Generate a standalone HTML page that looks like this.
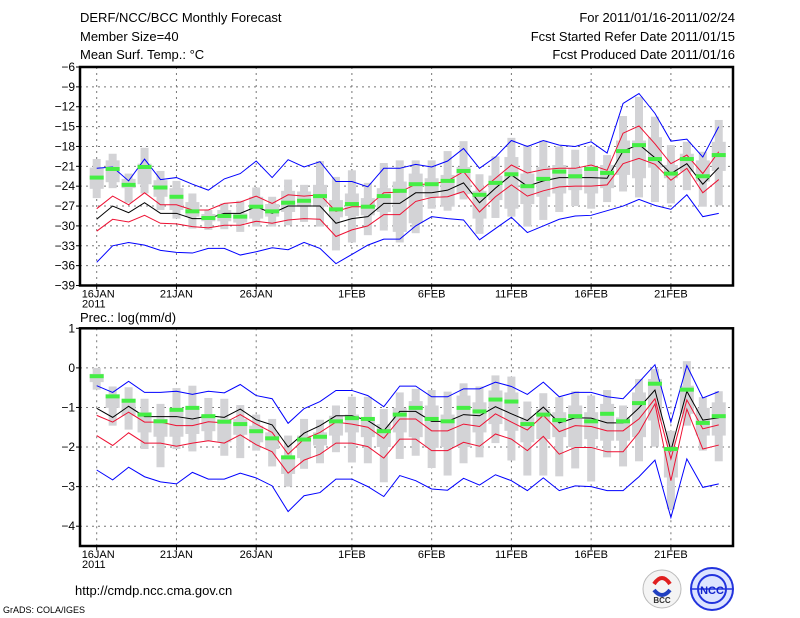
<!DOCTYPE html>
<html><head><meta charset="utf-8"><style>
body{margin:0;background:#fff;width:800px;height:618px;overflow:hidden;font-family:"Liberation Sans",sans-serif}
svg{position:absolute;left:0;top:0}
</style></head><body>
<svg id="c" width="800" height="618" xmlns="http://www.w3.org/2000/svg"></svg>
<script>
const dateLabels=["16JAN","21JAN","26JAN","1FEB","6FEB","11FEB","16FEB","21FEB"];
const dateDays=[0,5,10,16,21,26,31,36];
// Temperature panel
const tBlueHi=[-21.3,-21.1,-23.2,-19.9,-23,-22.7,-23.7,-24.6,-22.9,-22.1,-20.2,-22.7,-20,-21.1,-20.3,-23.3,-23.3,-24.1,-21.3,-21.3,-20.7,-21.1,-20.2,-18.3,-21.3,-19.6,-17.1,-18,-17.1,-17.8,-18,-17.3,-19,-11.5,-10,-13,-17.2,-16.9,-19.6,-15];
const tRedHi=[-27.4,-25.5,-26.8,-25,-26.8,-26.8,-27.6,-27.6,-26.6,-26.4,-25.5,-26.6,-25.3,-25.5,-25.3,-27.8,-27.1,-27.1,-25,-24.9,-23.7,-23.7,-23.2,-21.8,-24.8,-22.8,-20.8,-22,-21.5,-21.3,-21.3,-20.8,-21.6,-16,-14.9,-17.6,-20.6,-19.3,-22.1,-18.8];
const tMean=[-29,-27,-28,-26.5,-28.1,-28.1,-28.9,-28.9,-28.1,-28.1,-27.1,-28.1,-27,-27,-27,-29.6,-28.9,-28.6,-26.6,-26.6,-25,-25,-24.6,-23.5,-26.5,-24.3,-22.3,-24,-23.2,-22.7,-22.7,-22.7,-22.8,-18.7,-17.7,-19.7,-22.1,-20.6,-23.7,-21.2];
const tRedLo=[-30.8,-29,-29.4,-28.4,-29.6,-29.7,-30.1,-30.3,-29.9,-29.9,-29.3,-29.6,-29.1,-28.9,-29,-31.6,-30.6,-30,-28.3,-28.3,-26.3,-25.7,-25.6,-24.8,-27.9,-25.6,-23.8,-25.5,-24.7,-24.1,-24,-24,-23.8,-20.6,-19.8,-20.7,-23.1,-21.3,-25,-23];
const tBlueLo=[-35.5,-33,-32.5,-32.9,-33.7,-34,-34.1,-33.4,-33.4,-34.4,-33.9,-33.3,-33.6,-32.5,-33.4,-35.7,-34.3,-32.9,-32,-32,-30,-28.6,-28.9,-29.1,-32.1,-30.4,-28.7,-31,-30,-29,-28.5,-28.4,-27.7,-27,-26,-26.9,-27.5,-25.3,-28.6,-28.1];
const tObs=[-22.7,-21.4,-23.8,-21.1,-24.2,-25.6,-27.8,-28.8,-28.5,-28.6,-27.1,-27.8,-26.5,-26.2,-25.5,-27.5,-26.7,-27.1,-25.5,-24.7,-23.7,-23.7,-23.2,-21.7,-25.3,-23.5,-22.2,-24,-22.9,-21.8,-22.5,-21.4,-22,-18.7,-17.8,-19.9,-22.1,-19.9,-22.5,-19.3];
const tMax=[-19.9,-19.1,-22.1,-18.2,-21.7,-23.2,-25.1,-27.6,-26.6,-26.2,-24.2,-25.6,-23,-23.8,-20.2,-22.6,-21.6,-23.5,-20.5,-20.1,-20.1,-20.1,-18.7,-17.2,-22.2,-19.5,-16.7,-17.8,-17.1,-18,-18.5,-18,-19.3,-13.4,-10.5,-13.5,-17.8,-17.3,-18.8,-14];
const tMin=[-25.8,-24.3,-26.5,-25.1,-27.6,-28.9,-30.4,-30.6,-30.5,-30.9,-30.1,-30.1,-29.9,-29.4,-30.1,-33.7,-32.5,-31.4,-30.7,-32.5,-31.1,-27.4,-27.7,-26,-31.2,-28.8,-28.6,-30.1,-29.1,-27.9,-27,-27.4,-26.4,-24.8,-25.7,-26.4,-26.6,-24.6,-27.1,-26.9];
const tQ3=[-21.2,-20.1,-22.9,-20.6,-23.1,-24.3,-26.4,-28.2,-27.6,-28.1,-25.6,-26.7,-24.7,-24.8,-23.8,-26.1,-25.1,-25.8,-24.3,-23.3,-22.1,-22.8,-22.3,-21.1,-24.7,-22.4,-19.6,-22.1,-21.1,-20.8,-21.3,-21.1,-20.8,-17.1,-17.1,-16.6,-20.8,-19.1,-20.1,-17.3];
const tQ1=[-24.4,-23.4,-24.3,-23.7,-25.6,-27.6,-28.6,-29.3,-29.3,-29.5,-28.9,-28.6,-27.9,-27.1,-27.1,-28.7,-28.5,-28.4,-27.9,-30.9,-29.6,-25.7,-27.1,-25.2,-28.9,-26.1,-27.4,-26.7,-25.6,-25.1,-24.6,-25.1,-24.3,-22.3,-22.8,-21.2,-22.8,-21.8,-23.3,-21.7];
const tTicks=[-6,-9,-12,-15,-18,-21,-24,-27,-30,-33,-36,-39];
// Precipitation panel
const pBlueHi=[-0.45,-0.62,-0.34,-0.62,-0.62,-0.59,-0.67,-0.59,-0.63,-0.42,-0.7,-0.78,-1.4,-1.03,-0.85,-0.57,-0.57,-0.7,-0.98,-0.46,-0.46,-0.73,-0.73,-0.53,-0.53,-0.36,-0.47,-0.67,-0.36,-0.73,-0.62,-0.62,-0.73,-0.78,-0.36,0.08,-1.37,0.06,-0.76,-0.6];
const pRedHi=[-1.2,-1.37,-1.12,-1.37,-1.37,-1.46,-1.46,-1.36,-1.39,-1.18,-1.42,-1.63,-2.18,-1.8,-1.63,-1.37,-1.42,-1.5,-1.78,-1.29,-1.29,-1.59,-1.59,-1.42,-1.48,-1.16,-1.37,-1.57,-1.2,-1.61,-1.46,-1.48,-1.59,-1.59,-1.29,-0.78,-2.3,-0.81,-1.54,-1.44];
const pMean=[-1.02,-1.25,-0.97,-1.23,-1.23,-1.23,-1.29,-1.21,-1.25,-1.04,-1.31,-1.44,-2.0,-1.65,-1.46,-1.21,-1.21,-1.33,-1.59,-1.1,-1.1,-1.35,-1.35,-1.18,-1.21,-0.98,-1.16,-1.33,-0.99,-1.39,-1.26,-1.27,-1.39,-1.39,-1.01,-0.56,-2.09,-0.59,-1.32,-1.26];
const pRedLo=[-1.71,-1.96,-1.64,-1.9,-1.9,-1.98,-1.9,-1.84,-1.9,-1.69,-1.94,-2.12,-2.66,-2.33,-2.18,-1.9,-1.9,-1.99,-2.28,-1.8,-1.8,-2.09,-2.09,-1.88,-1.98,-1.67,-1.8,-2.09,-1.73,-2.18,-2.01,-2.01,-2.12,-2.12,-1.63,-0.91,-2.85,-1.04,-2.05,-1.95];
const pBlueLo=[-2.58,-2.83,-2.51,-2.75,-2.88,-2.93,-2.64,-2.81,-2.81,-2.66,-2.78,-2.98,-3.63,-3.23,-3.15,-2.81,-2.81,-3.0,-3.25,-2.72,-2.85,-3.06,-3.09,-2.79,-2.96,-2.7,-2.85,-3.1,-2.78,-3.1,-2.98,-3.0,-3.1,-3.1,-2.75,-2.33,-3.78,-2.3,-3.02,-2.93];
const pObs=[-0.21,-0.72,-0.83,-1.18,-1.35,-1.06,-1.01,-1.22,-1.36,-1.42,-1.6,-1.78,-2.26,-1.81,-1.74,-1.35,-1.27,-1.29,-1.6,-1.18,-1.01,-1.29,-1.35,-1.01,-1.1,-0.8,-0.85,-1.42,-1.18,-1.32,-1.22,-1.35,-1.16,-1.35,-0.89,-0.4,-2.05,-0.55,-1.39,-1.22];
const pMax=[0,-0.47,-0.49,-0.78,-0.91,-0.51,-0.45,-0.76,-0.78,-0.94,-1.18,-1.29,-1.71,-1.29,-1.31,-0.95,-0.73,-0.73,-1.04,-0.62,-0.53,-0.56,-0.6,-0.39,-0.47,-0.19,-0.22,-0.85,-0.64,-0.74,-0.59,-0.7,-0.56,-0.95,-0.28,-0.03,-1.59,0.17,-0.74,-0.59];
const pMin=[-0.55,-1.46,-1.56,-2.05,-2.51,-2.05,-2.11,-1.84,-2.22,-2.28,-2.09,-2.49,-3.0,-2.55,-2.41,-2.13,-2.39,-2.41,-2.89,-2.3,-2.22,-2.53,-2.72,-2.41,-2.26,-1.9,-2.34,-2.72,-2.72,-2.74,-2.54,-2.87,-2.26,-2.49,-2.36,-1.99,-3.57,-1.46,-2.09,-2.36];
const pQ3=[-0.15,-0.67,-0.78,-1.12,-1.29,-1.01,-1.01,-1.18,-1.29,-1.29,-1.46,-1.63,-2.22,-1.71,-1.63,-1.21,-1.18,-1.25,-1.42,-1.01,-0.84,-0.95,-1.18,-0.7,-0.87,-0.57,-0.62,-1.25,-1.04,-1.12,-0.95,-1.12,-0.91,-1.25,-0.62,-0.28,-2.05,-0.45,-1.01,-0.87];
const pQ1=[-0.36,-1.01,-1.21,-1.63,-1.74,-1.74,-1.67,-1.6,-1.88,-1.69,-1.88,-2.05,-2.68,-2.28,-1.96,-1.71,-1.63,-1.75,-2.0,-1.63,-1.75,-2.02,-2.0,-2.0,-1.63,-1.42,-1.59,-1.88,-1.8,-1.75,-2.0,-1.8,-1.84,-1.84,-1.75,-1.33,-2.77,-1.16,-1.71,-1.71];
const pTicks=[1,0,-1,-2,-3,-4];

const NS="http://www.w3.org/2000/svg";
const svg=document.getElementById('c');
function mk(tag,attrs,parent){const e=document.createElementNS(NS,tag);for(const k in attrs)e.setAttribute(k,attrs[k]);(parent||svg).appendChild(e);return e;}
const X0=80,X1=733;
function xOf(d){return 96.7+d*15.95;}
function txt(x,y,s,anchor,size,name){const t=mk('text',{x:x,y:y,'text-anchor':anchor||'start','font-size':size||12,fill:'#000','font-family':'Liberation Sans, sans-serif'});t.textContent=s;


return t;}

function panel(pre,top,bot,vTop,vBot,ticks,series,boxes,obs){
  const yOf=v=>top+(vTop-v)/(vTop-vBot)*(bot-top);
  const g=mk('g',{});
  
  
  ticks.forEach(v=>{const y=yOf(v);
    if(y>top+1&&y<bot-1){const l=mk('line',{x1:X0,x2:X1,y1:y,y2:y,stroke:'#777','stroke-dasharray':'2,4','stroke-width':1},g);
      
      }
    mk('line',{x1:X0-4,x2:X0,y1:y,y2:y,stroke:'#000'},g);
    txt(X0-5,y+4,String(v).replace('-','\u2212'),'end',12,pre+'-y-tick-label');
  });
  dateDays.forEach((d,i)=>{const x=xOf(d);
    const l=mk('line',{x1:x,x2:x,y1:top,y2:bot,stroke:'#777','stroke-dasharray':'2,4'},g);
    
    
    mk('line',{x1:x,x2:x,y1:bot,y2:bot+4,stroke:'#000'},g);
    txt(x,bot+12,dateLabels[i],i==0?'start':'middle',11,pre+'-x-tick-label').setAttribute('x',i==0?x-15:x);
  });
  txt(X0+2,bot+22,'2011','start',11,pre+'-year-label');
  const [mx,mn,q3,q1]=boxes;
  mx.forEach((v,d)=>{const x=xOf(d);
    const w=mk('rect',{x:x-4,y:yOf(mx[d]),width:8,height:Math.max(1,yOf(mn[d])-yOf(mx[d])),fill:'#d3d3d6'},g);
    
    
    const b=mk('rect',{x:x-7,y:yOf(q3[d]),width:14,height:Math.max(1,yOf(q1[d])-yOf(q3[d])),fill:'#d3d3d6'},g);
    
    
  });
  series.forEach(([arr,col,nm])=>{
    const p=mk('polyline',{points:arr.map((v,d)=>xOf(d)+','+yOf(v)).join(' '),fill:'none',stroke:col,'stroke-width':1},g);
    
    
  });
  obs.forEach((v,d)=>{
    const r=mk('rect',{x:xOf(d)-7,y:yOf(v)-2,width:14,height:4,fill:'#44ee44'},g);
    
    
  });
  const f=mk('rect',{x:X0,y:top,width:X1-X0,height:bot-top,fill:'none',stroke:'#000','stroke-width':2.5},g);
  
  
}
panel('temp',67,285.5,-6,-39,tTicks,
 [[tBlueHi,'#0000ff','blue-upper'],[tRedHi,'#ee1133','red-upper'],[tMean,'#000','mean-line'],[tRedLo,'#ee1133','red-lower'],[tBlueLo,'#0000ff','blue-lower']],
 [tMax,tMin,tQ3,tQ1],tObs);
panel('prec',328.3,546,1,-4.5,pTicks,
 [[pBlueHi,'#0000ff','blue-upper'],[pRedHi,'#ee1133','red-upper'],[pMean,'#000','mean-line'],[pRedLo,'#ee1133','red-lower'],[pBlueLo,'#0000ff','blue-lower']],
 [pMax,pMin,pQ3,pQ1],pObs);

txt(80,22,'DERF/NCC/BCC Monthly Forecast','start',13,'title');
txt(80,41,'Member Size=40','start',13,'member-size');
txt(80,59,'Mean Surf. Temp.: \u00B0C','start',13,'temp-panel-title');
txt(735,22,'For 2011/01/16-2011/02/24','end',13,'forecast-period');
txt(735,41,'Fcst Started Refer Date 2011/01/15','end',13,'start-date');
txt(735,59,'Fcst Produced Date 2011/01/16','end',13,'produced-date');
txt(80,322,'Prec.: log(mm/d)','start',13,'prec-panel-title');
txt(75,595,'http://cmdp.ncc.cma.gov.cn','start',13,'url-label');
txt(3,613,'GrADS: COLA/IGES','start',9,'grads-credit');
const l1=mk('g',{});


mk('circle',{cx:662,cy:589,r:19,fill:'#f4f4f4',stroke:'#bbb'},l1);
mk('path',{d:'M654 584 q8 -12 16 0',fill:'none',stroke:'#e02020','stroke-width':4},l1);
mk('path',{d:'M654 590 q8 10 16 0',fill:'none',stroke:'#2040c0','stroke-width':4},l1);
const bt=mk('text',{x:662,y:603,'text-anchor':'middle','font-size':8,'font-weight':'bold',fill:'#333'},l1);bt.textContent='BCC';
const l2=mk('g',{});


mk('circle',{cx:712,cy:589,r:21,fill:'#dde4ff',stroke:'#2233dd','stroke-width':2},l2);
mk('circle',{cx:712,cy:589,r:14,fill:'none',stroke:'#2233dd','stroke-width':2},l2);
mk('line',{x1:691,x2:733,y1:589,y2:589,stroke:'#2233dd','stroke-width':1.5},l2);
const nt=mk('text',{x:712,y:594,'text-anchor':'middle','font-size':11,'font-weight':'bold',fill:'#1122cc'},l2);nt.textContent='NCC';
</script>
</body></html>
